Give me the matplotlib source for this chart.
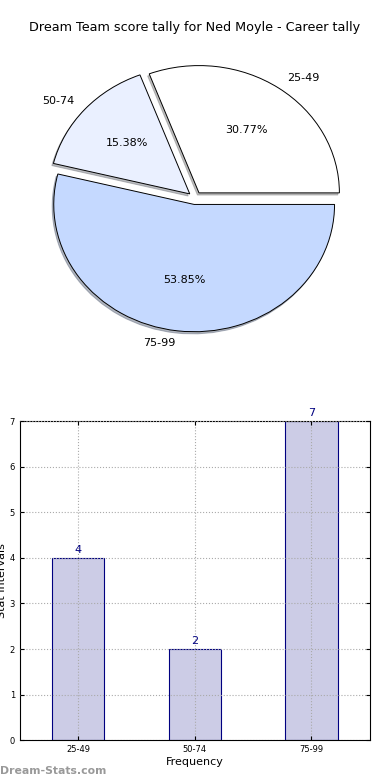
import numpy as np
import matplotlib
matplotlib.use('Agg')
import matplotlib.pyplot as plt

labels = ['25-49', '50-74', '75-99']
counts = [4, 2, 7]
pie_colors = ['#ffffff', '#eaf0ff', '#c5d9ff']

fig = plt.figure(figsize=(3.9, 7.8), dpi=100)

# pie
ax1 = fig.add_axes([0.05, 0.542, 0.9, 0.408])
wedges, texts, autotexts = ax1.pie(counts, labels=labels, colors=pie_colors,
                                   explode=[0.05, 0.05, 0.05],
                                   shadow={'ox': -0.008, 'oy': -0.012, 'shade': 0.5},
                                   autopct='%.2f%%', startangle=0,
                                   wedgeprops={'edgecolor': 'black', 'linewidth': 0.7},
                                   textprops={'fontsize': 8})
ax1.set_aspect('auto')
ax1.set_xlim(-1.25, 1.25)
ax1.set_ylim(-1.25, 1.25)
ax1.set_title('Dream Team score tally for Ned Moyle - Career tally', fontsize=9.2)

# bars
ax2 = fig.add_axes([0.051, 0.051, 0.897, 0.409])
x = np.arange(len(labels))
bars = ax2.bar(x, counts, width=0.45, color='#ccccE6', edgecolor='navy', linewidth=0.8)
for xi, c in zip(x, counts):
    ax2.text(xi, c + 0.07, str(c), ha='center', va='bottom', color='navy', fontsize=8)
ax2.set_xlim(-0.5, 2.5)
ax2.set_ylim(0, 7)
ax2.set_xticks(x)
ax2.set_xticklabels(labels)
ax2.set_yticks(range(0, 8))
ax2.tick_params(labelsize=6, direction='in', top=True, right=True, length=3)
ax2.grid(True, color='#aaaaaa', linestyle=':', linewidth=0.8)
ax2.set_axisbelow(False)
ax2.set_xlabel('Frequency', fontsize=8, labelpad=2)
ax2.set_ylabel('Stat Intervals', fontsize=8, labelpad=2)

fig.text(0.0, 0.005, 'Dream-Stats.com', color='#999999', fontsize=7.8,
         fontweight='bold', ha='left', va='bottom')

fig.savefig('out.png', dpi=100)
